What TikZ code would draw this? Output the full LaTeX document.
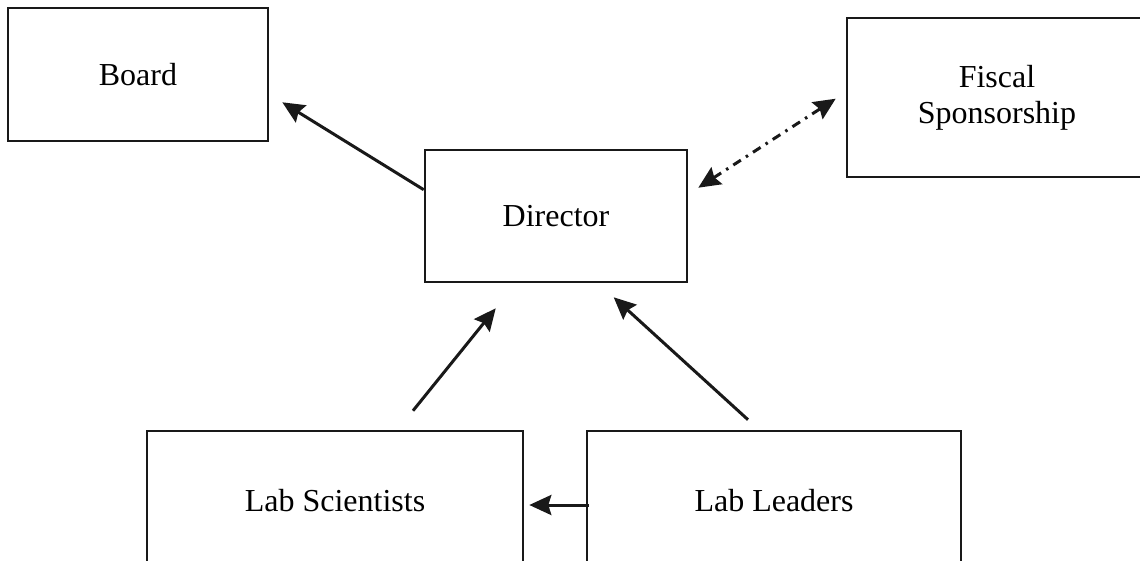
\documentclass[tikz,border=0pt]{standalone}
\usepackage{fontspec}
\setmainfont{Liberation Serif}
\usetikzlibrary{arrows.meta,calc}
\tikzset{
  box/.style={draw=black!90, line width=2.6pt, rectangle, inner sep=0pt, align=center,
    font=\fontsize{32pt}{36pt}\selectfont},
  tip/.style={},
  conn/.style={line width=3pt, draw=black!90, -{Stealth[length=22pt,width=20pt,inset=3pt]}},
  dconn/.style={line width=3pt, draw=black!90, {Stealth[length=22pt,width=20pt,inset=3pt]}-{Stealth[length=22pt,width=20pt,inset=3pt]},
    dash pattern=on 9pt off 6pt on 2.5pt off 6pt}
}
\begin{document}
\begin{tikzpicture}[x=1pt,y=-1pt]
\clip (0,0) rectangle (1140,560);
\fill[white] (0,0) rectangle (1140,560);
\node[box, minimum width=260pt, minimum height=133pt] (board) at (138,74.5) {Board};
\node[box, minimum width=300pt, minimum height=159pt] (fiscal) at (997,97.5) {Fiscal\\Sponsorship};
\node[box, minimum width=262pt, minimum height=132pt] (dir) at (556,216) {Director};
\node[box, minimum width=376pt, minimum height=140pt] (sci) at (335,501) {Lab Scientists};
\node[box, minimum width=374pt, minimum height=140pt] (lead) at (774,501) {Lab Leaders};
% connector end points
\coordinate (c1) at ($(dir.north west)+(0,41)$);
\coordinate (c2) at ($(board.south east)+(13,-40)$);
\coordinate (d1) at ($(dir.north east)+(10,39)$);
\coordinate (d2) at ($(fiscal.north west)+(-10,82)$);
\coordinate (s1) at ($(sci.north)+(78,-19)$);
\coordinate (s2) at ($(dir.south west)+(72,25)$);
\coordinate (l1) at ($(lead.north)+(-26,-10)$);
\coordinate (l2) at ($(dir.south west)+(190,14)$);
\coordinate (h1) at ($(lead.west)+(3,4)$);
\coordinate (h2) at ($(sci.east)+(5,4)$);
\draw[conn] (c1) -- (c2);
\draw[dconn] (d1) -- (d2);
\draw[conn] (s1) -- (s2);
\draw[conn] (l1) -- (l2);
\draw[conn] (h1) -- (h2);
\end{tikzpicture}
\end{document}
